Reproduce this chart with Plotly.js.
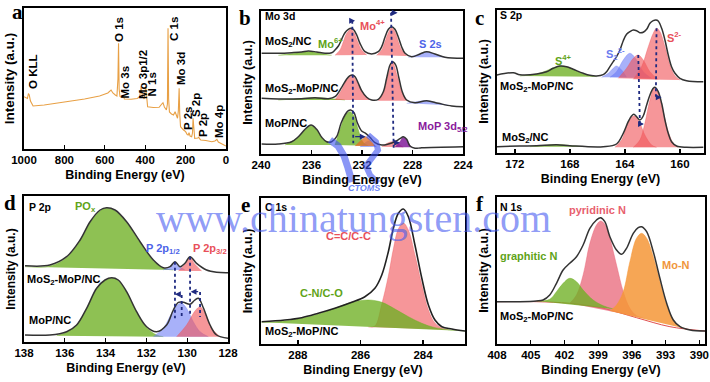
<!DOCTYPE html>
<html><head><meta charset="utf-8">
<script src="https://cdn.plot.ly/plotly-3.0.1.min.js"></script>
<style>html,body{margin:0;padding:0;background:#fff}#chart{width:710px;height:382px}</style>
</head><body><div id="chart"></div>
<script>
// ---------------- DATA ----------------
// Panel a: survey spectrum
const surveyBE  = [1000,990,983,978,974,968,955,900,790,700,626,585,569,560,548,540,535,532,529,525,515,508,503,470,440,428,423,420,417,412,405,400,397,394,388,360,331,318,312,305,295,290,287,284,280,270,260,252,246,240,236,232,229,225,210,200,192,187,183,178,170,166,163,160,155,140,135,130,125,100,70,55,45,38,30,15,0];
const surveyInt = [52.3,51,50.5,55.5,54,48,43,44,47.3,50,53,56,59,56,54,53,70,105.7,60,52.5,51.5,53,50,49.7,50.5,52,58,63,56,52,50,56,64,55,42.3,41.5,41.7,45,46.3,42,39,45,120.7,50,37,35,34,37.3,34,30.7,38,60.7,35,22.3,19,17.3,14.5,14,16.3,13,12.3,16,30.7,18,10.7,11,11.7,10,9,8.5,7.3,8,9.7,7,6,5,3];
const ticksA = [1000,800,600,400,200,0];

// Panel b: Mo 3d
const ticksB = [240,236,232,228,224];
const b1EnvBE  = [239.95,238.63,237.57,236.78,236.25,235.59,234.93,234.40,234.14,233.87,233.61,233.35,233.08,232.87,232.69,232.42,232.16,231.76,231.23,230.71,230.44,230.18,229.91,229.65,229.39,229.12,228.86,228.59,228.07,227.41,226.88,226.22,225.43,223.97];
const b1EnvInt = [100.7,100.7,101.3,102,103,102,100.7,101.3,104,108,114.7,121.3,124.7,125.7,124.7,119,110.7,102.3,100,102.3,107.3,116.7,124.7,127.3,124.7,116.7,107.3,100.7,97.3,100,102.3,100,96.7,95.7];
const b1Mo6BE  = [238.63,237.57,236.78,236.25,235.59,234.93,234.40];
const b1Mo6Int = [98.7,100.3,101.7,102.3,101.3,99.7,98.7];
const b1Mo4aBE  = [234.14,233.74,233.48,233.21,232.87,232.61,232.34,232.03,231.63];
const b1Mo4aInt = [98.7,104,112.3,120.7,124.7,120.7,112.3,104,99];
const b1Mo4bBE  = [230.84,230.44,230.18,229.91,229.65,229.39,229.12,228.86,228.46];
const b1Mo4bInt = [98.7,104,112.3,121.3,126.3,122.3,112.3,104,98];
const b1S2sBE  = [228.33,227.67,226.88,226.22,225.43];
const b1S2sInt = [96.7,99,101.7,99.7,96.7];

const b2EnvBE  = [239.95,238.63,236.78,235.72,234.67,234.14,233.61,233.21,232.95,232.77,232.55,232.29,232.03,231.63,231.23,230.71,230.31,230.05,229.78,229.57,229.33,229.07,228.81,228.46,227.80,226.88,225.95,224.90,223.97];
const b2EnvInt = [55.7,55,55.3,56.3,55.3,57.3,66.7,75,78.3,79,77.3,70.7,63.3,56.7,54,54.7,62.3,75.7,89,92.3,89,75.7,62.3,54,51.3,53.3,50.7,48,47.3];
const b2Mo6BE  = [238.63,237.04,235.72,234.40,233.35];
const b2Mo6Int = [54,55.3,56.3,55.3,54];
const b2Mo4aBE  = [234.14,233.61,233.21,232.77,232.34,231.89,231.37];
const b2Mo4aInt = [54,64,74,78,70.7,60.7,54];
const b2Mo4bBE  = [230.71,230.31,229.97,229.57,229.20,228.86,228.46];
const b2Mo4bInt = [53.3,60.7,77.3,91.3,77.3,62.3,53.3];
const b2S2sBE  = [228.46,227.67,226.88,225.95,225.16];
const b2S2sInt = [50.7,52.3,53.3,50.7,48.7];

const b3EnvBE  = [239.95,238.63,237.57,237.04,236.51,236.04,235.59,235.19,234.80,234.40,234.01,233.66,233.35,233.08,232.90,232.63,232.37,232.03,231.71,231.37,230.97,230.44,229.91,229.39,228.99,228.73,228.46,228.20,227.80,227.27,223.97];
const b3EnvInt = [10,10,12.3,17.3,24.7,29,24.7,16.7,12.3,12.3,17.3,30.7,39,43.3,44,41.3,31.3,23,20.7,16.7,11.3,9,10,12.3,15.3,17.3,14.7,8,5.7,6.3,7.3];
const b3G1BE  = [238.10,237.04,236.51,236.04,235.59,235.14,234.40];
const b3G1Int = [9,16.7,24,28,24,15.3,9];
const b3G2BE  = [234.14,233.66,233.29,232.95,232.61,232.29,231.89,231.50];
const b3G2Int = [9,27.3,39,42.3,37.3,24,11.3,8.3];
const b3OrBE  = [232.55,232.03,231.71,231.37,230.97];
const b3OrInt = [8,14,17.3,14,8];
const b3BlBE  = [232.16,231.76,231.50,231.23,230.84];
const b3BlInt = [7,11,13,11,7];
const b3RdBE  = [230.44,229.91,229.52,229.12,228.73];
const b3RdInt = [7.3,11.3,12.3,10,6.7];
const b3PuBE  = [229.39,228.99,228.73,228.46,228.12];
const b3PuInt = [6.7,12.3,16.7,14,6.7];
const bGuide1BE = [232.77,232.69], bGuide1Int = [133.3,10.7];
const bGuide2BE = [229.70,229.49], bGuide2Int = [141.3,5.7];

// Panel c: S 2p
const ticksC = [172,168,164,160];
const c1EnvBE  = [173.33,172.12,171.64,170.42,169.70,169.21,168.73,168.24,167.76,167.03,166.55,166.06,165.58,165.33,165.09,164.85,164.61,164.36,164.12,163.88,163.64,163.39,163.15,162.91,162.67,162.42,162.18,161.94,161.75,161.58,161.33,161.09,160.85,160.61,160.36,160.0,159.52,158.30];
const c1EnvInt = [78,80.3,78.3,79,81.3,84.7,87,86.3,83.7,79.7,77.7,77,78.3,81.3,86.3,91.3,96.3,103,112.3,118.7,121.3,123,122.3,120.3,120.7,123.7,129.7,132.3,133,132,124.7,113,98,86.3,79.7,74.7,72.3,71.3];
const c1S4BE  = [171.64,170.42,169.70,169.21,168.73,168.24,167.76,167.03,166.06];
const c1S4Int = [77,79,82.3,85.3,87,86.3,83.7,79,76.3];
const c1S22aBE  = [165.70,165.21,164.85,164.61,164.24,163.88];
const c1S22aInt = [75.7,79.7,84.7,87,83,75.7];
const c1S22bBE  = [165.09,164.61,164.12,163.64,163.15,162.67,162.06];
const c1S22bInt = [75.7,81.3,93,99.7,93,81.3,74.7];
const c1S2aBE  = [164.48,163.88,163.39,163.03,162.67,162.18,161.58];
const c1S2aInt = [74.7,84.7,94.7,98,93,81.3,73.7];
const c1S2bBE  = [163.39,162.79,162.30,161.94,161.70,161.45,161.09,160.73,160.36,160.0];
const c1S2bInt = [73.7,86.3,106.3,119.7,124.7,121.3,106.3,88,77,73];
const c2EnvBE  = [173.33,171.64,170.42,168.97,168.0,165.58,164.61,164.12,163.76,163.52,163.35,163.15,162.91,162.67,162.42,162.18,161.94,161.82,161.58,161.33,161.09,160.85,160.61,160.24,159.52,158.30];
const c2EnvInt = [6.3,7,7.3,8.3,7.3,6.3,9,19.7,31.3,37,38.7,36.3,33,37,48,58,64.7,65.7,61.3,49.7,33,19.7,11.3,7,5.7,5.7];
const c2S4BE  = [170.91,169.94,168.97,168.0,167.03];
const c2S4Int = [6.3,7.5,8.5,7.5,6.3];
const c2SaBE  = [164.73,164.24,163.88,163.52,163.27,162.91,162.55,162.06,161.70];
const c2SaInt = [5.7,13,26.3,35.7,37,29.7,18,8,5.7];
const c2SbBE  = [163.39,162.91,162.55,162.18,161.87,161.58,161.21,160.85,160.48,160.12];
const c2SbInt = [5.7,13,29.7,53,64.7,59.7,41.3,21.3,9.7,5.7];
const cGuide1BE = [163.03,162.91], cGuide1Int = [98,29.7];
const cGuide2BE = [161.70,161.75], cGuide2Int = [124.7,56.3];

// Panel d: P 2p
const ticksD = [138,136,134,132,130,128];
const d1EnvBE  = [137.95,136.73,135.91,135.25,134.76,134.27,133.95,133.54,132.97,132.31,131.66,131.17,130.84,130.60,130.35,130.11,129.86,129.54,129.05,128.56,127.98];
const d1EnvInt = [76.3,77,85.3,102,120.3,132,134.3,132,120.3,100.3,82,74.3,75.3,80.3,75.3,78.7,85.3,78.7,72,69.7,69.3];
const d1POxBE  = [137.95,136.73,135.91,135.25,134.76,134.27,133.95,133.54,132.97,132.31,131.66,131.17,130.68];
const d1POxInt = [75.3,76,84.3,101,119.3,131,133.7,131,119.3,99.3,81,73.7,72];
const d1P12BE  = [131.17,130.84,130.60,130.35,130.11];
const d1P12Int = [72,75.3,79.3,75.3,72];
const d1P32BE  = [130.43,130.11,129.86,129.62,129.29];
const d1P32Int = [71,77.7,84.3,77.7,71];
const d2EnvBE  = [137.95,136.73,135.91,135.42,134.93,134.44,134.03,133.70,133.38,132.97,132.48,131.99,131.50,131.01,130.68,130.43,130.19,129.86,129.62,129.45,129.21,128.88,128.56,127.98];
const d2EnvInt = [7,7,10.3,17,33.7,53.7,62,64.3,62,50.3,30.3,15.3,10.3,17,32,39.7,39.7,37.7,42,43.7,34.3,17,7,3.7];
const d2POxBE  = [136.40,135.91,135.42,134.93,134.44,134.03,133.70,133.38,132.97,132.48,131.99,131.50,131.17];
const d2POxInt = [6.3,9.7,17,33,53,61.3,63.7,61.3,49.7,29.7,14.3,7,5.3];
const d2P12BE  = [131.66,131.17,130.76,130.43,130.27,130.03,129.70,129.37,128.96];
const d2P12Int = [5.3,13.7,28.7,37.7,38.7,33.7,20.3,10.3,5.3];
const d2P32BE  = [130.52,130.03,129.62,129.37,129.13,128.80,128.39];
const d2P32Int = [5.3,17,31,35.3,28.7,13.7,5.3];
const dGuide1BE = [130.60,130.60], dGuide1Int = [80.3,23.7];
const dGuide2BE = [129.86,129.86], dGuide2Int = [85.3,27];
const dGuide3BE = [130.27,130.27], dGuide3Int = [47,24];
const dGuide4BE = [129.37,129.37], dGuide4Int = [50,25];

// Panel e: C 1s
const ticksE = [288,286,284];
const eEnvBE  = [289.16,288.42,287.88,287.35,286.82,286.28,285.86,285.54,285.32,285.11,284.95,284.79,284.63,284.47,284.26,284.04,283.83,283.62,283.40,283.08,282.66];
const eEnvInt = [22.3,24,26.3,30.7,35.7,41.7,47.3,55.7,69,92.3,115.7,130.7,135,127.3,99,65.7,39,24,17.3,15,13];
const eCNBE  = [289.16,288.42,287.88,287.35,286.82,286.28,285.75,285.32,284.90,284.47,284.04,283.62,283.08,282.66];
const eCNInt = [21.7,23,25.7,29.7,35.7,41.7,44,41.7,35,27.3,20.7,16.3,14,13];
const eCCBE  = [285.75,285.54,285.32,285.11,284.95,284.79,284.63,284.47,284.26,284.04,283.83,283.62,283.40,283.19];
const eCCInt = [17,18,40,68,95,115,121,114,89,59,34,21,16,14.3];

// Panel f: N 1s
const ticksF = [408,405,402,399,396,393,390];
const fEnvBE  = [408.06,405.98,404.50,403.90,403.31,402.71,402.12,401.53,400.93,400.34,399.74,399.15,398.79,398.41,397.96,397.37,396.92,396.48,395.88,395.44,395.14,394.69,394.10,393.51,392.91,392.32,391.72,390.83,389.50];
const fEnvInt = [42.3,42.3,43,44,49,60.7,74,80.7,87.3,99,115.7,124,126.3,122.3,107.3,94,89.7,95.7,110.7,116.3,117.3,112.3,92.3,65.7,40.7,24,17.3,14,13];
const fBaseBE  = [408.06,404.50,401.53,398.56,395.59,392.62,389.50];
const fBaseInt = [42.3,42.3,40.7,35.7,26.3,17.3,13];
const fGraphBE  = [404.50,403.31,402.71,402.12,401.53,400.93,400.34,399.45,398.56,397.66];
const fGraphInt = [43,44.7,52.3,60.7,65.7,62.3,54,44,38.3,35];
const fPyrBE  = [401.53,400.93,400.34,399.74,399.15,398.79,398.41,397.96,397.37,396.77,396.18,395.59,394.99];
const fPyrInt = [40.7,49,69,100.7,119,123,119.7,105.7,79,52.3,35.7,28.3,26.3];
const fMoNBE  = [397.96,397.37,396.77,396.18,395.59,395.14,394.69,394.10,393.51,392.91,392.32,391.72,391.13];
const fMoNInt = [33,39,52.3,82.3,105.7,110.7,105.7,87.3,62.3,39,24,17.3,15];

// ---------------- STYLE / LAYOUT ----------------
const W = 710, H = 382;
const PX = x => x / W, PY = y => 1 - y / H;
const FONT = '"Liberation Sans", Arial, sans-serif';
const SERIF = '"Liberation Serif", "Times New Roman", serif';
const GREEN = 'rgba(110,175,35,0.78)';
const RED = 'rgba(240,85,90,0.62)';
const BLUE = 'rgba(105,120,245,0.58)';
const PURPLE = 'rgba(125,20,150,0.82)';
const ORANGEB = 'rgba(225,110,40,0.78)';
const PINK = 'rgba(232,95,115,0.72)';
const ORANGE = 'rgba(245,150,55,0.85)';
const ENV = '#333333';
const NAVY = '#1f2a80';

const panels = [
  {id:'',  box:[24,226,8,149],   xr:[1000,0],        tv:ticksA, yr:[0,141], ytf:13.5},
  {id:'2', box:[261,463,11,154], xr:[240,224],       tv:ticksB, yr:[0,143], ytf:12.5},
  {id:'3', box:[497,704,10,153], xr:[173.3,158.25],  tv:ticksC, yr:[0,143], ytf:12.5},
  {id:'4', box:[24,228,196,342], xr:[138,128],       tv:ticksD, yr:[0,146], ytf:12},
  {id:'5', box:[261,465,198,344],xr:[289.18,282.66], tv:ticksE, yr:[0,146], ytf:12.5},
  {id:'6', box:[497,705,197,344],xr:[408,389.5],     tv:ticksF, yr:[0,147], ytf:12.5}
];

const layout = {
  width: W, height: H, margin: {l:0, r:0, t:0, b:0},
  paper_bgcolor: '#fff', plot_bgcolor: '#fff', showlegend: false,
  annotations: [], shapes: []
};
panels.forEach(p => {
  const [l, r, t, b] = p.box;
  layout['xaxis' + p.id] = {
    domain: [PX(l), PX(r)], range: p.xr, anchor: 'y' + p.id,
    tickmode: 'array', tickvals: p.tv, ticks: 'inside', ticklen: 4, tickwidth: 1.3, tickcolor: '#000',
    showline: true, mirror: true, linecolor: '#000', linewidth: 1.6,
    showgrid: false, zeroline: false,
    tickfont: {family: FONT, size: 11.5, color: '#000', weight: 700},
    title: {text: 'Binding Energy (eV)', standoff: 5, font: {family: FONT, size: 12.5, color: '#000', weight: 700}}
  };
  layout['yaxis' + p.id] = {
    domain: [PY(b), PY(t)], range: p.yr, anchor: 'x' + p.id,
    showticklabels: false, ticks: '', showline: true, mirror: true, linecolor: '#000', linewidth: 1.6,
    showgrid: false, zeroline: false,
    title: {text: 'Intensity (a.u.)', standoff: 4, font: {family: FONT, size: p.ytf, color: '#000', weight: 700}}
  };
});

const traces = [];
function ax(id){ return {xaxis: 'x' + id, yaxis: 'y' + id}; }
function comp(id, x, y, fc){
  traces.push(Object.assign({type:'scatter', mode:'lines', x, y, fill:'toself', fillcolor: fc,
    line:{width:0.6, color: fc, shape:'spline', smoothing:1}, hoverinfo:'skip'}, ax(id)));
}
function env(id, x, y, color, w){
  traces.push(Object.assign({type:'scatter', mode:'lines', x, y,
    line:{width: w || 1.5, color: color || ENV, shape:'spline', smoothing:1}, hoverinfo:'skip'}, ax(id)));
}
function guide(id, x, y){
  traces.push(Object.assign({type:'scatter', mode:'lines', x, y,
    line:{width:1.8, color: NAVY, dash:'dot'}, hoverinfo:'skip'}, ax(id)));
}

// a
traces.push({type:'scatter', mode:'lines', x: surveyBE, y: surveyInt, xaxis:'x', yaxis:'y',
  line:{color:'#E8A045', width:1.1}, hoverinfo:'skip'});
// b
comp('2', b1Mo6BE, b1Mo6Int, GREEN); comp('2', b1Mo4aBE, b1Mo4aInt, RED); comp('2', b1Mo4bBE, b1Mo4bInt, RED); comp('2', b1S2sBE, b1S2sInt, BLUE);
env('2', b1EnvBE, b1EnvInt);
comp('2', b2Mo6BE, b2Mo6Int, GREEN); comp('2', b2Mo4aBE, b2Mo4aInt, RED); comp('2', b2Mo4bBE, b2Mo4bInt, RED); comp('2', b2S2sBE, b2S2sInt, BLUE);
env('2', b2EnvBE, b2EnvInt);
comp('2', b3G1BE, b3G1Int, GREEN); comp('2', b3G2BE, b3G2Int, GREEN); comp('2', b3BlBE, b3BlInt, BLUE); comp('2', b3OrBE, b3OrInt, ORANGEB);
comp('2', b3RdBE, b3RdInt, RED); comp('2', b3PuBE, b3PuInt, PURPLE);
env('2', b3EnvBE, b3EnvInt);
guide('2', bGuide1BE, bGuide1Int); guide('2', bGuide2BE, bGuide2Int);
// c
comp('3', c1S4BE, c1S4Int, GREEN); comp('3', c1S22aBE, c1S22aInt, BLUE); comp('3', c1S22bBE, c1S22bInt, BLUE);
comp('3', c1S2aBE, c1S2aInt, RED); comp('3', c1S2bBE, c1S2bInt, RED);
env('3', c1EnvBE, c1EnvInt);
comp('3', c2S4BE, c2S4Int, GREEN); comp('3', c2SaBE, c2SaInt, RED); comp('3', c2SbBE, c2SbInt, RED);
env('3', c2EnvBE, c2EnvInt);
guide('3', cGuide1BE, cGuide1Int); guide('3', cGuide2BE, cGuide2Int);
// d
comp('4', d1POxBE, d1POxInt, GREEN); comp('4', d1P12BE, d1P12Int, BLUE); comp('4', d1P32BE, d1P32Int, RED);
env('4', d1EnvBE, d1EnvInt);
comp('4', d2POxBE, d2POxInt, GREEN); comp('4', d2P12BE, d2P12Int, BLUE); comp('4', d2P32BE, d2P32Int, RED);
env('4', d2EnvBE, d2EnvInt);
guide('4', dGuide1BE, dGuide1Int); guide('4', dGuide2BE, dGuide2Int); guide('4', dGuide3BE, dGuide3Int); guide('4', dGuide4BE, dGuide4Int);
// e
comp('5', eCCBE, eCCInt, RED); comp('5', eCNBE, eCNInt, GREEN);
env('5', eEnvBE, eEnvInt, '#222', 1.6);
// f
env('6', fBaseBE, fBaseInt, 'rgba(220,60,60,0.9)', 1);
comp('6', fPyrBE, fPyrInt, PINK); comp('6', fGraphBE, fGraphInt, GREEN); comp('6', fMoNBE, fMoNInt, ORANGE);
env('6', fEnvBE, fEnvInt);

// ---------------- TEXT ----------------
function lab(text, x, y, color, size, xanchor, extra){
  layout.annotations.push(Object.assign({xref:'paper', yref:'paper', x:PX(x), y:PY(y), text, showarrow:false,
    xanchor: xanchor || 'left', yanchor:'middle',
    font:{family:FONT, size: size || 11, color: color || '#000', weight:700}}, extra || {}));
}
function vlab(text, x, y){ lab(text, x, y, '#000', 11.5, 'center', {textangle:-90}); }
function arrow(id, x, y, dx){
  layout.annotations.push({xref:'x'+id, yref:'y'+id, x, y, ax:dx, ay:0, axref:'pixel', ayref:'pixel', text:'',
    showarrow:true, arrowhead:2, arrowsize:0.9, arrowwidth:1.3, arrowcolor:NAVY});
}
// panel letters
[['a',17,12],['b',245,18],['c',479,18],['d',10,203],['e',245,205],['f',480,204]].forEach(([t,x,y]) =>
  lab(t, x, y, '#000', 21, 'center', {font:{family:SERIF, size:21, color:'#000', weight:700}}));
// a
vlab('O KLL', 33, 72); vlab('O 1s', 119, 30); vlab('Mo 3s', 124.5, 82); vlab('Mo 3p1/2', 143, 75);
vlab('N 1s', 151.5, 85); vlab('C 1s', 174, 29); vlab('Mo 3d', 181, 69); vlab('P 2s', 188, 119);
vlab('S 2p', 196, 105); vlab('P 2p', 203, 125); vlab('Mo 4p', 219, 121);
// b
lab('Mo 3d', 263, 16, '#000', 10.5);
lab('MoS<sub>2</sub>/NC', 263, 42);
lab('Mo<sup>6+</sup>', 316, 43, '#5fa318');
lab('Mo<sup>4+</sup>', 358, 25, '#e8505a');
lab('S 2s', 417, 44, '#4d63e8');
lab('MoS<sub>2</sub>-MoP/NC', 263, 89);
lab('MoP/NC', 263, 123);
lab('MoP 3d<sub>5/2</sub>', 416, 127, '#8a1a9c');
arrow('2', 232.55, 133.3, -6); arrow('2', 229.18, 141.3, -8); arrow('2', 231.71, 17.3, -12); arrow('2', 228.99, 11.3, -6);
// c
lab('S 2p', 498, 15, '#000', 10.5);
lab('S<sup>4+</sup>', 553, 60, '#5fa318');
lab('S<sub>2</sub><sup>2-</sup>', 604, 54, '#6a7bef');
lab('S<sup>2-</sup>', 665, 37, '#e8505a');
lab('MoS<sub>2</sub>-MoP/NC', 498, 87);
lab('MoS<sub>2</sub>/NC', 500, 138);
arrow('3', 162.62, 29, -6); arrow('3', 161.33, 55.7, -7);
// d
lab('P 2p', 27, 207, '#000', 10.5);
lab('PO<sub>x</sub>', 73, 207, '#5fa318');
lab('P 2p<sub>1/2</sub>', 144, 249, '#4d63e8');
lab('P 2p<sub>3/2</sub>', 191, 249, '#e8505a');
lab('MoS<sub>2</sub>-MoP/NC', 25, 280);
lab('MoP/NC', 27, 320);
arrow('4', 130.60, 47.7, 7); arrow('4', 129.83, 50.3, 9);
// e
lab('C 1s', 263, 207, '#000', 10.5);
lab('C=C/C-C', 324, 236, '#e8505a');
lab('C-N/C-O', 298, 293, '#5fa318');
lab('MoS<sub>2</sub>-MoP/NC', 263, 332);
// f
lab('N 1s', 498, 207, '#000', 10.5);
lab('pyridinic N', 567, 210, '#e8606e');
lab('graphitic N', 498, 256, '#5fa318');
lab('Mo-N', 660, 265, '#f0963c');
lab('MoS<sub>2</sub>-MoP/NC', 498, 317);

// watermark + logo
lab('www.chinatungsten.com', 353, 218, 'rgba(70,90,240,0.62)', 40, 'center',
  {font:{family:SERIF, size:40, color:'rgba(70,90,240,0.62)'}});
lab('CTOMS', 364, 188, 'rgba(80,110,245,0.85)', 9, 'center',
  {font:{family:FONT, size:9, color:'rgba(80,110,245,0.85)', weight:700, style:'italic'}});
function pth(pts){ return 'M ' + pts.map(p => PX(p[0]) + ',' + PY(p[1])).join(' L '); }
layout.shapes.push({type:'path', xref:'paper', yref:'paper', path: pth([[330,140],[338,146],[344,156],[348,168],[352,182]]),
  line:{color:'rgba(60,80,240,0.6)', width:7}});
layout.shapes.push({type:'path', xref:'paper', yref:'paper', path: pth([[368,135],[376,142],[378,150],[372,158],[366,166],[370,175],[378,183]]),
  line:{color:'rgba(60,80,240,0.6)', width:6}});

Plotly.newPlot('chart', traces, layout, {staticPlot:true, displayModeBar:false});
</script></body></html>
